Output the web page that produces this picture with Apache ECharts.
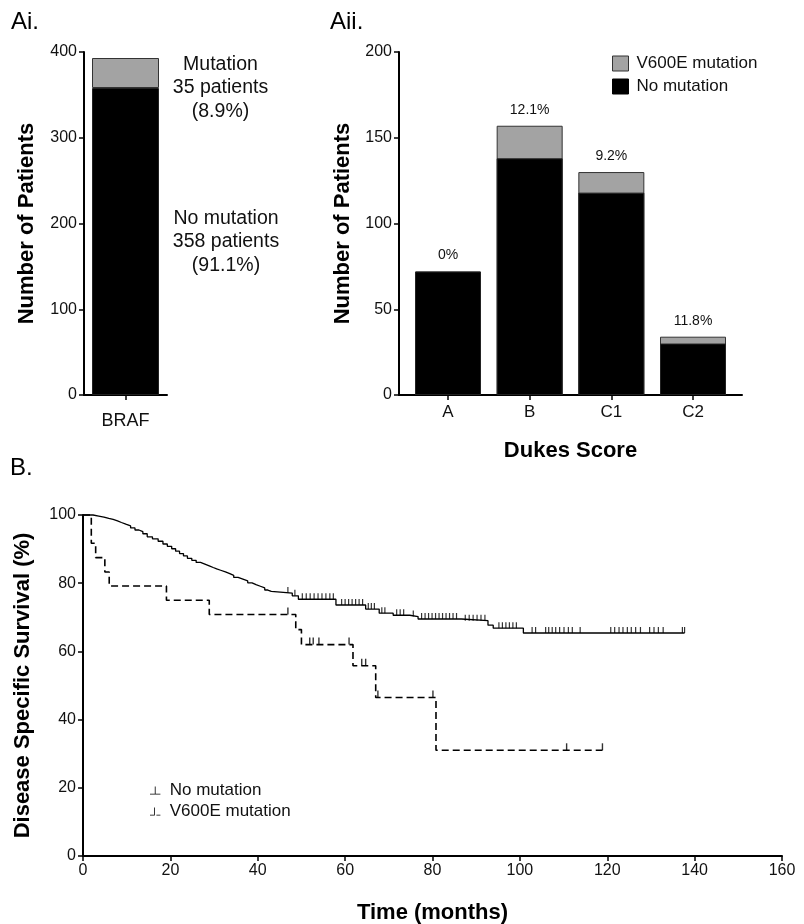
<!DOCTYPE html>
<html>
<head>
<meta charset="utf-8">
<title>BRAF V600E mutation</title>
<script src="https://cdn.jsdelivr.net/npm/echarts@6/dist/echarts.min.js"></script>
<style>
html, body { margin: 0; padding: 0; background: #fff; }
#chart { width: 804px; height: 924px; }
</style>
</head>
<body>
<div id="chart"></div>
<script>
// Ai - BRAF status
var brafCategories = ['BRAF'];
var brafNoMutation = [358];
var brafMutation = [35];

// Aii - by Dukes score
var dukesCategories = ['A', 'B', 'C1', 'C2'];
var dukesNoMutation = [72, 138, 118, 30];
var dukesMutation = [0, 19, 12, 4];
var dukesPercent = ['0%', '12.1%', '9.2%', '11.8%'];

// B - Kaplan-Meier steps (months, % surviving after each step)
var wtTime = [0, 2.3, 3.6, 4.8, 5.9, 6.9, 7.9, 8.8, 9.8, 10.9, 11.9, 12.8, 13.7, 14.7, 15.9, 17.2,
  18.3, 19.3, 20.3, 21.2, 22.1, 23.0, 23.9, 24.9, 25.9, 26.9, 27.9, 28.9, 29.8, 30.6, 31.5, 32.6,
  33.6, 34.5, 35.5, 36.6, 37.7, 38.7, 39.6, 40.6, 41.6, 42.3, 43.1, 47.9, 49.3, 57.9, 64.7, 67.8,
  71.0, 74.8, 76.7, 86.6, 92.7, 93.9, 100.8, 137.7];
var wtSurv = [100, 99.7, 99.4, 99.0, 98.7, 98.3, 97.8, 97.3, 96.8, 96.2, 95.6, 95.1, 94.5, 93.6, 93.0, 92.3,
  91.5, 90.8, 90.1, 89.4, 88.7, 88.0, 87.3, 86.7, 86.1, 85.6, 85.1, 84.6, 84.2, 83.8, 83.3, 82.8,
  82.3, 81.7, 81.2, 80.7, 80.1, 79.6, 79.1, 78.6, 78.0, 77.6, 77.1, 76.3, 75.3, 73.6, 72.4, 71.2,
  70.6, 70.2, 69.5, 69.0, 67.7, 66.8, 65.4, 65.4];
var wtCensor = [46.9, 48.5, 50.2, 51.1, 52.0, 52.9, 53.8, 54.7, 55.6, 56.5, 57.3, 59.2, 60.0, 60.8,
  61.6, 62.4, 63.2, 64.0, 65.3, 66.0, 66.7, 68.4, 69.1, 71.8, 72.6, 73.4, 75.6, 77.5, 78.3, 79.1,
  79.9, 80.7, 81.5, 82.3, 83.1, 83.9, 84.7, 85.5, 87.5, 88.4, 89.3, 90.2, 91.1, 92.0, 95.2, 96.0,
  96.8, 97.6, 98.4, 99.2, 102.8, 103.6, 105.9, 106.6, 107.4, 108.2, 109.1, 110.1, 111.1, 112.0,
  113.8, 120.8, 121.7, 122.7, 123.6, 124.6, 125.5, 126.5, 127.6, 129.7, 130.7, 131.7, 132.8,
  137.2, 137.7];
var mutTime = [0, 1.9, 2.9, 5.0, 6.0, 19.1, 28.9, 48.7, 50.0, 61.8, 67.0, 80.8, 118.9];
var mutSurv = [100, 91.7, 87.5, 83.3, 79.2, 75.0, 70.8, 66.4, 62.0, 55.8, 46.5, 31.0, 31.0];
var mutCensor = [46.9, 51.9, 52.7, 54.0, 60.9, 63.8, 64.7, 67.5, 80.1, 110.7, 118.9];

var FONT = 'Liberation Sans, Arial, Helvetica, sans-serif';
var GREY = '#a3a3a3';

// survival value of a step curve at time t
function survAt (times, surv, t) {
  var s = surv[0];
  for (var i = 0; i < times.length; i++) {
    if (times[i] <= t) s = surv[i];
  }
  return s;
}

function pairs (xs, ys) {
  return xs.map(function (x, i) { return [x, ys[i]]; });
}

var brafTotal = brafNoMutation[0] + brafMutation[0];
var dukesIdx = dukesCategories.map(function (c, i) { return i; });
var dukesTotal = dukesNoMutation.map(function (v, i) { return v + dukesMutation[i]; });

function axisLineStyle () {
  return { show: true, onZero: false, lineStyle: { color: '#000', width: 2 } };
}
function tickStyle () {
  return { show: true, length: 5, lineStyle: { color: '#000', width: 1.5 } };
}
var nameStyle = { fontSize: 22, fontWeight: 'bold', color: '#000', fontFamily: FONT };

var chart = echarts.init(document.getElementById('chart'));
var option = {
  animation: false,
  backgroundColor: '#fff',
  textStyle: { fontFamily: FONT },
  grid: [
    { left: 84, top: 52, width: 83, height: 343, outerBoundsMode: 'none' },
    { left: 399, top: 52, width: 343, height: 343, outerBoundsMode: 'none' },
    { left: 83, top: 515, width: 699, height: 341, outerBoundsMode: 'none' }
  ],
  xAxis: [{
    gridIndex: 0,
    type: 'category',
    data: brafCategories,
    axisLine: axisLineStyle(),
    axisTick: { show: true, alignWithLabel: true, length: 5, lineStyle: { color: '#000', width: 1.5 } },
    axisLabel: { fontSize: 18, margin: 17, color: '#111' }
  }, {
    gridIndex: 1,
    type: 'value',
    min: -0.6,
    max: 3.6,
    splitLine: { show: false },
    axisLine: axisLineStyle(),
    axisTick: { show: true, length: 5, customValues: dukesIdx, lineStyle: { color: '#000', width: 1.5 } },
    axisLabel: {
      customValues: dukesIdx,
      fontSize: 17,
      margin: 9,
      color: '#111',
      formatter: function (v) { return dukesCategories[Math.round(v)]; }
    },
    name: 'Dukes Score',
    nameLocation: 'middle',
    nameGap: 45,
    nameTextStyle: nameStyle
  }, {
    gridIndex: 2,
    type: 'value',
    min: 0,
    max: 160,
    interval: 20,
    splitLine: { show: false },
    axisLine: axisLineStyle(),
    axisTick: tickStyle(),
    axisLabel: { fontSize: 16, margin: 7, color: '#111' },
    name: 'Time (months)',
    nameLocation: 'middle',
    nameGap: 46,
    nameTextStyle: nameStyle
  }],
  yAxis: [{
    gridIndex: 0,
    type: 'value',
    min: 0,
    max: 400,
    interval: 100,
    splitLine: { show: false },
    axisLine: axisLineStyle(),
    axisTick: tickStyle(),
    axisLabel: { fontSize: 16, margin: 7, color: '#111' },
    name: 'Number of Patients',
    nameLocation: 'middle',
    nameGap: 46,
    nameTextStyle: nameStyle
  }, {
    gridIndex: 1,
    type: 'value',
    min: 0,
    max: 200,
    interval: 50,
    splitLine: { show: false },
    axisLine: axisLineStyle(),
    axisTick: tickStyle(),
    axisLabel: { fontSize: 16, margin: 7, color: '#111' },
    name: 'Number of Patients',
    nameLocation: 'middle',
    nameGap: 45,
    nameTextStyle: nameStyle
  }, {
    gridIndex: 2,
    type: 'value',
    min: 0,
    max: 100,
    interval: 20,
    splitLine: { show: false },
    axisLine: axisLineStyle(),
    axisTick: tickStyle(),
    axisLabel: { fontSize: 16, margin: 7, color: '#111' },
    name: 'Disease Specific Survival (%)',
    nameLocation: 'middle',
    nameGap: 49,
    nameTextStyle: nameStyle
  }],
  legend: [{
    orient: 'vertical',
    left: 607,
    top: 50,
    itemWidth: 16,
    itemHeight: 15,
    itemGap: 6,
    selectedMode: false,
    textStyle: { fontSize: 17, color: '#111', padding: [0, 0, 0, 3] },
    data: [
      { name: 'V600E mutation', icon: 'rect', itemStyle: { color: GREY, borderColor: '#333', borderWidth: 1 } },
      { name: 'No mutation', icon: 'rect', itemStyle: { color: '#000', borderColor: '#000', borderWidth: 1 } }
    ]
  }, {
    orient: 'vertical',
    left: 145,
    top: 777,
    itemWidth: 13,
    itemHeight: 8,
    itemGap: 4,
    selectedMode: false,
    textStyle: { fontSize: 17, color: '#111', padding: [0, 0, 0, 3] },
    formatter: function (name) { return name.replace('B: ', ''); },
    data: [
      { name: 'B: No mutation', icon: 'path://M0,9h13v1H0z M6,0h1v10H6z', itemStyle: { color: '#000', borderWidth: 0 } },
      { name: 'B: V600E mutation', icon: 'path://M0,9h6v1H0z M5,0h1v10H5z M8,9h5v1H8z', itemStyle: { color: '#000', borderWidth: 0 } }
    ]
  }],
  graphic: [
    { type: 'text', left: 11, top: 10, style: { text: 'Ai.', fontSize: 24, fontFamily: FONT, fill: '#000' } },
    { type: 'text', left: 330, top: 10, style: { text: 'Aii.', fontSize: 24, fontFamily: FONT, fill: '#000' } },
    { type: 'text', left: 10, top: 456, style: { text: 'B.', fontSize: 24, fontFamily: FONT, fill: '#000' } },
    {
      type: 'text', x: 220.5, y: 88,
      style: {
        text: 'Mutation\n' + brafMutation[0] + ' patients\n(' + (brafMutation[0] / brafTotal * 100).toFixed(1) + '%)',
        fontSize: 19.5, lineHeight: 23.5, fontFamily: FONT, fill: '#111',
        align: 'center', verticalAlign: 'middle', textAlign: 'center', textVerticalAlign: 'middle'
      }
    },
    {
      type: 'text', x: 226, y: 242,
      style: {
        text: 'No mutation\n' + brafNoMutation[0] + ' patients\n(' + (brafNoMutation[0] / brafTotal * 100).toFixed(1) + '%)',
        fontSize: 19.5, lineHeight: 23.5, fontFamily: FONT, fill: '#111',
        align: 'center', verticalAlign: 'middle', textAlign: 'center', textVerticalAlign: 'middle'
      }
    }
  ],
  series: [{
    // Ai
    name: 'BRAF no mutation',
    type: 'bar',
    xAxisIndex: 0,
    yAxisIndex: 0,
    stack: 'braf',
    barWidth: 67,
    data: brafNoMutation,
    itemStyle: { color: '#000', borderColor: '#222', borderWidth: 1 }
  }, {
    name: 'BRAF mutation',
    type: 'bar',
    xAxisIndex: 0,
    yAxisIndex: 0,
    stack: 'braf',
    barWidth: 67,
    data: brafMutation,
    itemStyle: { color: GREY, borderColor: '#333', borderWidth: 1 }
  }, {
    // Aii: total bar (grey) with the no-mutation bar drawn over it
    name: 'V600E mutation',
    type: 'bar',
    xAxisIndex: 1,
    yAxisIndex: 1,
    barWidth: 66,
    barGap: '-100%',
    data: pairs(dukesIdx, dukesTotal),
    itemStyle: { color: GREY, borderColor: '#333', borderWidth: 1 },
    label: {
      show: true,
      position: 'top',
      distance: 9,
      fontSize: 14,
      color: '#111',
      formatter: function (p) { return dukesPercent[p.dataIndex]; }
    }
  }, {
    name: 'No mutation',
    type: 'bar',
    xAxisIndex: 1,
    yAxisIndex: 1,
    barWidth: 66,
    barGap: '-100%',
    data: pairs(dukesIdx, dukesNoMutation),
    itemStyle: { color: '#000', borderColor: '#222', borderWidth: 1 }
  }, {
    // B
    name: 'B: No mutation',
    type: 'line',
    xAxisIndex: 2,
    yAxisIndex: 2,
    step: 'end',
    symbol: 'none',
    clip: false,
    data: pairs(wtTime, wtSurv),
    itemStyle: { color: '#000' },
    lineStyle: { color: '#000', width: 1.3 }
  }, {
    name: 'B: V600E mutation',
    type: 'line',
    xAxisIndex: 2,
    yAxisIndex: 2,
    step: 'end',
    symbol: 'none',
    clip: false,
    data: pairs(mutTime, mutSurv),
    itemStyle: { color: '#000' },
    lineStyle: { color: '#000', width: 1.6, type: [7, 4] }
  }, {
    name: 'No mutation censored',
    type: 'scatter',
    xAxisIndex: 2,
    yAxisIndex: 2,
    symbol: 'rect',
    symbolSize: [1.2, 6],
    symbolOffset: [0, -3],
    data: wtCensor.map(function (t) { return [t, survAt(wtTime, wtSurv, t)]; }),
    itemStyle: { color: '#000' }
  }, {
    name: 'V600E censored',
    type: 'scatter',
    xAxisIndex: 2,
    yAxisIndex: 2,
    symbol: 'rect',
    symbolSize: [1.4, 7],
    symbolOffset: [0, -3.5],
    data: mutCensor.map(function (t) { return [t, survAt(mutTime, mutSurv, t)]; }),
    itemStyle: { color: '#000' }
  }]
};
chart.setOption(option);
</script>
</body>
</html>
